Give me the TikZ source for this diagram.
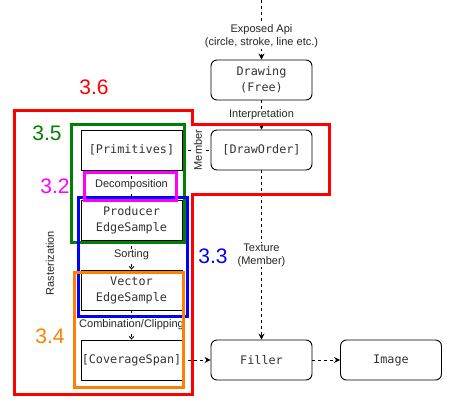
\documentclass[tikz,border=0pt]{standalone}
\usepackage{fontspec}
\setmainfont{Liberation Sans}
\newfontfamily\monofont{DejaVu Sans Mono}
\usetikzlibrary{arrows.meta}

\definecolor{grpred}{HTML}{FF0000}
\definecolor{grpgreen}{HTML}{007F00}
\definecolor{grpmagenta}{HTML}{FF00FF}
\definecolor{grpblue}{HTML}{0000FF}
\definecolor{grporange}{HTML}{FF8000}

\tikzset{
  block/.style={draw, line width=0.9pt, minimum width=101pt, minimum height=40pt, inner sep=0pt,
    align=center, font=\monofont\fontsize{11.8}{16}\selectfont, text=black!80},
  rblock/.style={block, rounded corners=6pt},
  flow/.style={dash pattern=on 3pt off 3pt, line width=0.9pt, -{Stealth[length=6pt,width=6pt]}},
  smallflow/.style={flow, -{Straight Barb[length=2.5pt,width=4.5pt]}},
  lbl/.style={fill=white, inner sep=1pt, align=center, font=\fontsize{11}{13}\selectfont, text=black!85},
  secnum/.style={font=\fontsize{21}{21}\selectfont},
  grp/.style={line width=3pt},
}

\begin{document}
\begin{tikzpicture}[x=1pt,y=-1pt]
  \useasboundingbox (0,0) rectangle (455,405);

  % blocks
  \node[rblock] (drawing) at (261.5,80) {Drawing\\(Free)};
  \node[rblock] (draworder) at (261.5,150) {[DrawOrder]};
  \node[block] (primitives) at (131.5,150) {[Primitives]};
  \node[block] (producer) at (131.5,220) {Producer\\EdgeSample};
  \node[block] (vector) at (131.5,290) {Vector\\EdgeSample};
  \node[block] (coverage) at (131.5,360) {[CoverageSpan]};
  \node[rblock] (filler) at (261.5,360) {Filler};
  \node[rblock] (image) at (391,360) {Image};
  \coordinate (api) at (261.5,0);

  % connections
  \draw[flow] (api) -- node[lbl, pos=0.61] {Exposed Api\\(circle, stroke, line etc.)} (drawing);
  \draw[flow] (drawing) -- node[lbl] {Interpretation} (draworder);
  \draw[flow, -] (primitives) -- node[lbl, rotate=90, pos=0.55] {Member} (draworder);
  \draw[flow] (draworder) -- node[lbl] {Texture\\(Member)} (filler);
  \draw[smallflow] (primitives) -- node[lbl] {Decomposition} (producer);
  \draw[smallflow] (producer) -- node[lbl] {Sorting} (vector);
  \draw[smallflow] (vector) -- node[lbl] {Combination/Clipping} (coverage);
  \draw[flow] (coverage) -- (filler);
  \draw[flow] (filler) -- (image);

  % groups
  \draw[grp, grpred] (14,110) -- (192,110) -- (192,124) -- (329,124) -- (329,194)
    -- (192,194) -- (192,394) -- (14,394) -- cycle;
  \draw[grp, grpgreen] (71,124) rectangle (184,242);
  \draw[grp, grpblue] (78,197) rectangle (187,316);
  \draw[grp, grpmagenta] (84,172) rectangle (176,200);
  \draw[grp, grporange] (74,272) rectangle (183,387);

  % labels
  \node[lbl, fill=none, rotate=90] (raster) at (50,263) {Rasterization};
  \node[secnum, grpred] (n36) at (94,87) {3.6};
  \node[secnum, grpgreen] (n35) at (47,133) {3.5};
  \node[secnum, grpmagenta] (n32) at (55,186) {3.2};
  \node[secnum, grpblue] (n33) at (213,256) {3.3};
  \node[secnum, grporange] (n34) at (50,336) {3.4};
\end{tikzpicture}
\end{document}
